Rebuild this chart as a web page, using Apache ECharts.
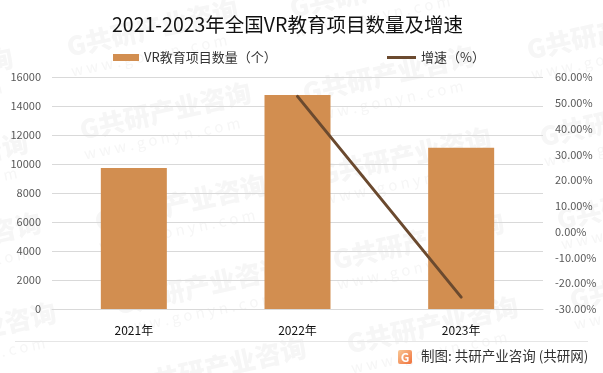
<!DOCTYPE html>
<html><head><meta charset="utf-8">
<style>html,body{margin:0;padding:0;background:#fff}#c{width:603px;height:373px}</style>
<script src="https://cdn.jsdelivr.net/npm/echarts@6/dist/echarts.min.js"></script>
</head><body><div id="c"></div>
<script>
const categories = ['2021年','2022年','2023年'];
const projectCounts = [9720, 14760, 11120];
const growthRates = [null, 52.5, -25.4];
const leftTicks = [0, 16000, 2000];
const rightTicks = [-30, 60, 10];
const title = '2021-2023年全国VR教育项目数量及增速';
const barName = 'VR教育项目数量（个）';
const lineName = '增速（%）';
const source = '制图: 共研产业咨询 (共研网)';
const marks = [[67,47],[290,8],[527,50],[-158,95],[80,130],[303,93],[540,137],[-143,180],[320,175],[-130,260],[95,222],[333,260],[557,220],[-115,350],[115,305],[347,344],[570,300],[135,385]];
const font = '"Noto Sans CJK SC","Noto Sans",sans-serif';
const watermarks = marks.flatMap(([x,y]) => [
  {type:'text',x,y,rotation:0.22,silent:true,z:-1,style:{text:'G共研产业咨询',font:'900 26px '+font,fill:'#f6f6f6',verticalAlign:'middle'}},
  {type:'text',x:x+4,y:y+24,rotation:0.2,silent:true,z:-1,style:{text:'w w w . g o n y n . c o m',font:'15px '+font,fill:'#f6f6f6',verticalAlign:'middle'}}
]);
const chart = echarts.init(document.getElementById('c'),null,{renderer:'canvas'});
chart.setOption({
  animation:false,
  backgroundColor:'#fff',
  textStyle:{fontFamily:font},
  title:{text:title,left:107,top:10,itemGap:0,textStyle:{fontFamily:font,fontSize:19.5,fontWeight:'normal',color:'#111'}},
  legend:[
    {data:[{name:barName,icon:'rect'}],left:108,top:46,itemWidth:26,itemHeight:7,itemGap:3,textStyle:{fontSize:13,color:'#333',fontFamily:font}},
    {data:[{name:lineName,icon:'rect'}],left:382,top:46,itemWidth:29,itemHeight:3,itemGap:0,textStyle:{fontSize:13,color:'#333',fontFamily:font}}
  ],
  grid:{left:52,right:60,top:77,height:232,containLabel:false},
  xAxis:{type:'category',data:categories,axisLine:{lineStyle:{color:'#d9d9d9',width:1}},axisTick:{show:false},
    axisLabel:{color:'#111',fontSize:12,margin:15,fontFamily:font}},
  yAxis:[
    {type:'value',min:leftTicks[0],max:leftTicks[1],interval:leftTicks[2],axisLine:{show:false},axisTick:{show:false},
     splitLine:{lineStyle:{color:'#d9d9d9',width:1}},axisLabel:{color:'#595959',fontSize:11,margin:11,fontFamily:font,formatter:v=>String(v)}},
    {type:'value',min:rightTicks[0],max:rightTicks[1],interval:rightTicks[2],position:'right',axisLine:{show:false},axisTick:{show:false},
     splitLine:{show:false},axisLabel:{color:'#595959',fontSize:11,margin:12,fontFamily:font,formatter:v=>v.toFixed(2)+'%'}}
  ],
  series:[
    {name:barName,type:'bar',data:projectCounts,barWidth:66,itemStyle:{color:'#D28E50'}},
    {name:lineName,type:'line',yAxisIndex:1,data:growthRates,connectNulls:false,symbol:'none',
     lineStyle:{color:'#6B4A2F',width:3,cap:'round'},itemStyle:{color:'#6B4A2F'}}
  ],
  graphic:[...watermarks,
    {type:'line',silent:true,shape:{x1:15,y1:341.5,x2:588,y2:341.5},style:{stroke:'#e6e6e6',lineWidth:1}},
    {type:'rect',silent:true,shape:{x:398,y:350,width:14,height:14,r:2},style:{fill:new echarts.graphic.LinearGradient(0,0,1,1,[{offset:0,color:'#F9C896'},{offset:1,color:'#F0703A'}])}},
    {type:'text',silent:true,x:405,y:357,style:{text:'G',font:'bold 12px '+font,fill:'#fff',align:'center',verticalAlign:'middle'}},
    {type:'text',silent:true,x:421,y:356,style:{text:source,font:'13.5px '+font,fill:'#333',verticalAlign:'middle'}}
  ]
});
</script></body></html>
